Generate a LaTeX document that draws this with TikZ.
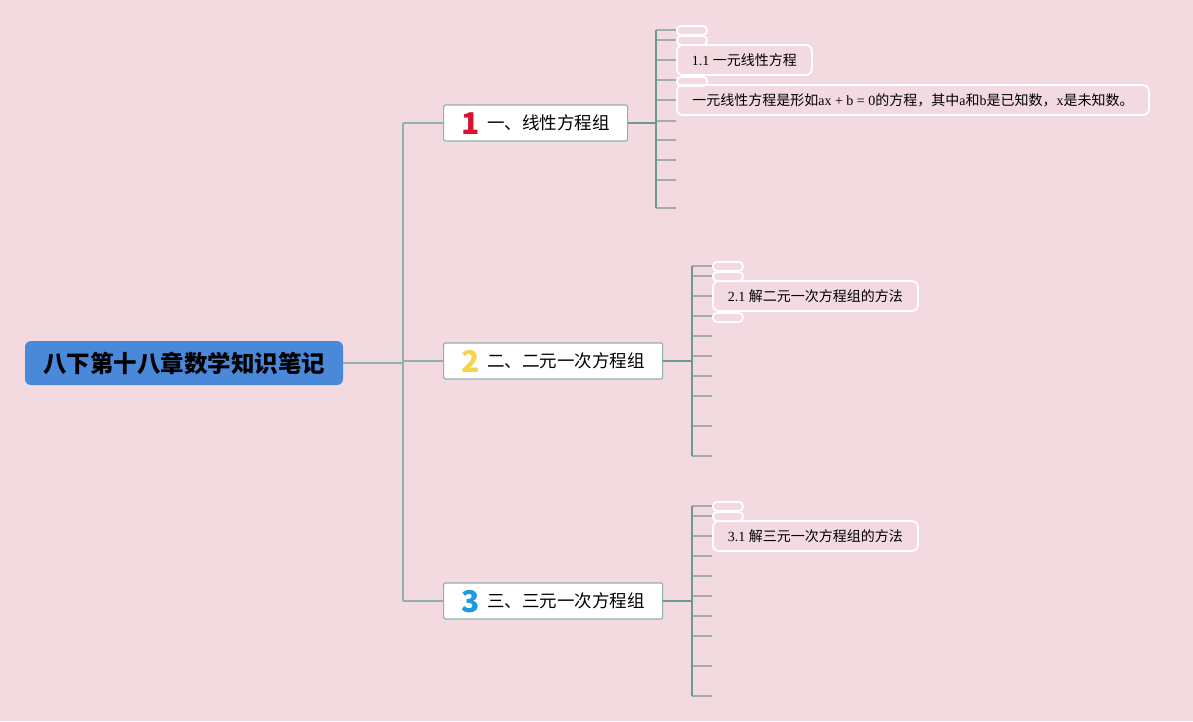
\documentclass[tikz,border=0pt]{standalone}
\usepackage{fontspec}
\setmainfont{Liberation Serif}
\newfontfamily\cjk{Noto Sans CJK SC}
\newcommand{\zh}[1]{{\cjk #1}}
\newcommand{\cifra}[2]{\smash{\raisebox{-5pt}{\color{#1}\bfseries\fontsize{30}{30}\selectfont #2}}\hspace{8pt}}
\definecolor{sfondo}{HTML}{F3D9E0}
\definecolor{blu}{HTML}{4A88DA}
\definecolor{bordo}{HTML}{8FB3A8}
\definecolor{verde}{HTML}{6B9A8F}
\definecolor{grigio}{HTML}{A3ADA8}
\definecolor{rosso}{HTML}{D9102E}
\definecolor{giallo}{HTML}{F5D547}
\definecolor{azzurro}{HTML}{1E9BE0}
\begin{document}
\begin{tikzpicture}[x=1pt,y=-1pt,
    radice/.style={fill=blu, rounded corners=6pt, minimum width=318pt, minimum height=44pt,
        inner sep=0pt, font=\cjk\bfseries\fontsize{23.5}{24}\selectfont},
    ramo/.style={draw=bordo, line width=1.2pt, fill=white, rounded corners=2pt, anchor=west,
        minimum height=36pt, inner sep=0pt, font=\cjk\fontsize{17.5}{18}\selectfont},
    foglia/.style={draw=white, line width=1.8pt, rounded corners=6pt, anchor=west,
        minimum height=30pt, inner sep=0pt, font=\fontsize{14}{14}\selectfont},
    vuota/.style={draw=white, line width=1.8pt, rounded corners=4pt, anchor=north west,
        minimum width=30pt, minimum height=9pt, inner sep=0pt},
    linea/.style={draw=verde, line width=1.5pt},
    tacca/.style={draw=grigio, line width=1.5pt}]

    % Sfondo
    \fill[sfondo] (0,0) rectangle (1193,721);
    \useasboundingbox (0,0) rectangle (1193,721);

    % Nodo centrale
    \node[radice] (root) at (184,363) {八下第十八章数学知识笔记};

    % Rami principali
    \node[ramo, minimum width=184pt] (r1) at (443,123) {\cifra{rosso}{1}一、线性方程组};
    \node[ramo, minimum width=219pt] (r2) at (443,361) {\cifra{giallo}{2}二、二元一次方程组};
    \node[ramo, minimum width=219pt] (r3) at (443,601) {\cifra{azzurro}{3}三、三元一次方程组};

    % Tronco
    \coordinate (tsu) at (403,123);
    \coordinate (tgiu) at (403,601);
    \draw[linea, draw=bordo] (tsu) -- (tgiu);
    \draw[linea, draw=bordo] (root.east) -- (root.east -| tsu);
    \foreach \r in {r1,r2,r3} {
        \draw[linea, draw=bordo] (\r.west -| tsu) -- (\r.west);
    }

    % Tacche del primo ramo
    \foreach \y [count=\i] in {30,40,60,80,100,121,140,160,180,208} {
        \coordinate (a\i) at (656,\y);
        \draw[tacca] (a\i) -- ++(20,0);
    }
    \draw[linea] (a1) -- (a10);
    \draw[linea] (r1.east) -- (r1.east -| a1);

    % Tacche del secondo e terzo ramo
    \foreach \y [count=\i] in {266,276,296,316,336,356,376,396,426,456} {
        \coordinate (b\i) at (692,\y);
        \coordinate (c\i) at (692,\y+240);
        \draw[tacca] (b\i) -- ++(20,0);
        \draw[tacca] (c\i) -- ++(20,0);
    }
    \draw[linea] (b1) -- (b10);
    \draw[linea] (r2.east) -- (r2.east -| b1);
    \draw[linea] (c1) -- (c10);
    \draw[linea] (r3.east) -- (r3.east -| c1);

    % Foglie del primo ramo
    \node[vuota] (v1) at (676,25) {};
    \node[vuota] (v2) at (676,35) {};
    \node[foglia, minimum width=135pt] (f11) at (676,60) {1.1 \zh{一元线性方程}};
    \node[vuota] (v3) at (676,76) {};
    \node[foglia, minimum width=472pt] (f12) at (676,100)
        {\zh{一元线性方程是形如}ax + b = 0\zh{的方程，其中}a\zh{和}b\zh{是已知数，}x\zh{是未知数。}};

    % Foglie del secondo ramo
    \node[vuota] (v4) at (712,261) {};
    \node[vuota] (v5) at (712,271) {};
    \node[foglia, minimum width=205pt] (f21) at (712,296) {2.1 \zh{解二元一次方程组的方法}};
    \node[vuota] (v6) at (712,312) {};

    % Foglie del terzo ramo
    \node[vuota] (v7) at (712,501) {};
    \node[vuota] (v8) at (712,511) {};
    \node[foglia, minimum width=205pt] (f31) at (712,536) {3.1 \zh{解三元一次方程组的方法}};

\end{tikzpicture}
\end{document}
